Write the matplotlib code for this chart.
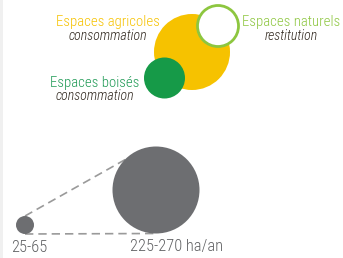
import matplotlib
matplotlib.use("Agg")
import matplotlib.pyplot as plt
from matplotlib.patches import Circle, Rectangle

plt.rcParams['font.family'] = ['Roboto Condensed', 'Archivo Narrow', 'Liberation Sans', 'DejaVu Sans']

# upper legend: land categories
categories = ["Espaces agricoles", "Espaces naturels", "Espaces boisés"]
flows = ["consommation", "restitution", "consommation"]
radii = [38, 20.5, 20.5]
centers = [(192, 52), (218, 26), (164.5, 78)]
fills = ["#f6c200", "white", "#169a48"]
edges = ["none", "#8dc63f", "none"]
title_colors = ["#f6c200", "#8dc63f", "#1f9a55"]
label_pos = [(108, 22), (291, 22), (95, 83)]

# lower legend: size scale
scale_labels = ["25-65", "225-270 ha/an"]
scale_radii = [9, 43.5]
scale_centers = [(25, 225), (156, 190)]
scale_label_x = [11, 130]

fig = plt.figure(figsize=(3.43, 2.58), dpi=100)
ax = fig.add_axes([0, 0, 1, 1])
ax.set_xlim(0, 343)
ax.set_ylim(258, 0)
ax.axis("off")

ax.add_patch(Rectangle((0, 0), 3, 258, color="#f0f0f0", lw=0))

for (cx, cy), r, fc, ec in zip(centers, radii, fills, edges):
    ax.add_patch(Circle((cx, cy), r, facecolor=fc, edgecolor=ec, lw=2, zorder=2))

for (tx, ty), name, flow, col in zip(label_pos, categories, flows, title_colors):
    ax.text(tx, ty, name, color=col, fontsize=10.6, fontweight="light",
            ha="center", va="center")
    ax.text(tx, ty + 13.5, flow, color="#2e251c", fontsize=10, style="italic",
            fontweight="light", ha="center", va="center")

# dashed tangent lines between scale circles
(x0, y0), (x1, y1) = scale_centers
r0, r1 = scale_radii
ax.plot([x0, 128], [y0 - r0, 158], ls=(0, (5, 3)), color="#9a9a9a", lw=1.2, zorder=1)
ax.plot([x0, x1], [y0 + r0, y1 + r1], ls=(0, (5, 3)), color="#9a9a9a", lw=1.2, zorder=1)

for (cx, cy), r in zip(scale_centers, scale_radii):
    ax.add_patch(Circle((cx, cy), r, facecolor="#6d6e71", edgecolor="none", zorder=2))

for x, lab in zip(scale_label_x, scale_labels):
    ax.text(x, 247, lab, color="#5f6062", fontsize=11.8, fontweight="light",
            ha="left", va="center")

fig.savefig("out.png", dpi=100)
